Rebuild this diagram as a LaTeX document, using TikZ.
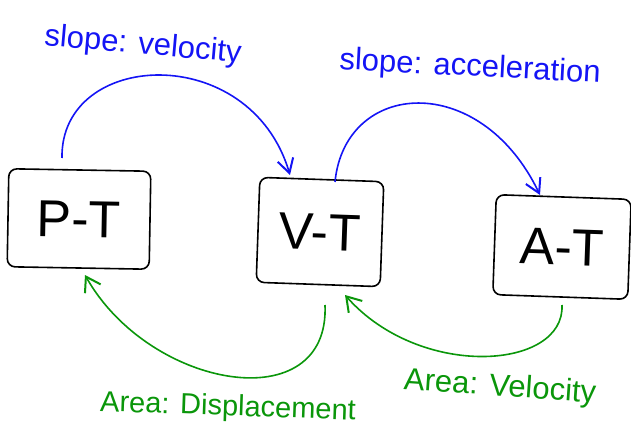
\documentclass[tikz,border=0pt]{standalone}
\usepackage{fontspec}
\setmainfont{Liberation Sans}
\usetikzlibrary{arrows.meta}
\definecolor{pblue}{RGB}{20,20,245}
\definecolor{pgreen}{RGB}{10,150,10}
\begin{document}
\begin{tikzpicture}[x=1pt,y=-1pt,
  graph/.style={draw=black,line width=1.6pt,rounded corners=8pt,inner sep=0pt,
    font=\fontsize{52}{52}\selectfont},
  bluearc/.style={draw=pblue,line width=1.6pt,-{Straight Barb[length=14pt,width=16pt,line width=2pt]}},
  greenarc/.style={draw=pgreen,line width=1.6pt,-{Straight Barb[length=14pt,width=18pt,line width=2pt]}},
  bluelabel/.style={text=pblue,inner sep=1pt,font=\fontsize{31}{31}\selectfont},
  greenlabel/.style={text=pgreen,inner sep=1pt,font=\fontsize{31}{31}\selectfont}]
\useasboundingbox (0,0) rectangle (631,446);
\node[graph,minimum width=142pt,minimum height=98pt,rotate=-1] (pt) at (79,219) {P-T};
\node[graph,minimum width=124pt,minimum height=105pt,rotate=-2] (vt) at (320,232) {V-T};
\node[graph,minimum width=135pt,minimum height=100pt,rotate=-2] (at) at (562,247) {A-T};
\coordinate (b1s) at (62,158);
\coordinate (b1e) at (290,175);
\coordinate (b2s) at (335,182);
\coordinate (b2e) at (540,195);
\coordinate (g1s) at (325,305);
\coordinate (g1e) at (85,275);
\coordinate (g2s) at (562,305);
\coordinate (g2e) at (345,295);
\draw[bluearc] (b1s) .. controls (60,50) and (250,40) .. (b1e);
\draw[bluearc] (b2s) .. controls (345,80) and (480,70) .. (b2e);
\draw[greenarc] (g1s) .. controls (330,420) and (150,390) .. (g1e);
\draw[greenarc] (g2s) .. controls (565,370) and (420,380) .. (g2e);
\node[bluelabel,rotate=-5] (l1) at (143,46) {slope: velocity};
\node[bluelabel,rotate=-3] (l2) at (470,68) {slope: acceleration};
\node[greenlabel,font=\fontsize{29}{29}\selectfont,rotate=-2] (l3) at (228,408) {Area: Displacement};
\node[greenlabel,rotate=-4] (l4) at (500,388) {Area: Velocity};
\end{tikzpicture}
\end{document}
